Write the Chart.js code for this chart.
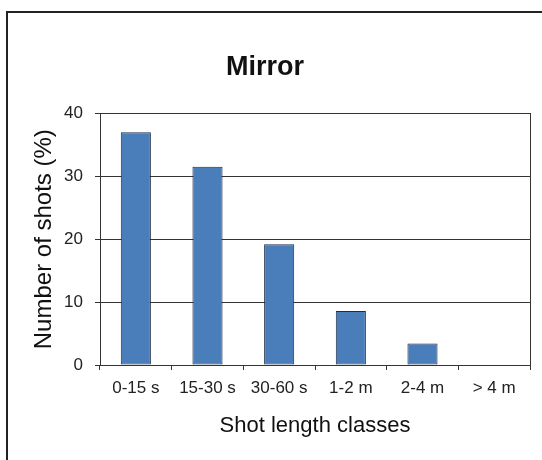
<!DOCTYPE html>
<html>
<head>
<meta charset="utf-8">
<script src="https://cdn.jsdelivr.net/npm/chart.js@4"></script>
<style>
    html, body { margin: 0; padding: 0; background: #fff; }
    #wrap { width: 542px; height: 460px; }
</style>
</head>
<body>
<div id="wrap"><canvas id="mirror-chart" width="542" height="460"></canvas></div>
<script>
const categories = ['0-15 s', '15-30 s', '30-60 s', '1-2 m', '2-4 m', '> 4 m'];
const shotShares = [37, 31.5, 19.2, 8.6, 3.4, 0];
const yTicks = [0, 10, 20, 30, 40];

const fontFamily = 'Arial, "Liberation Sans", sans-serif';

// frame around the whole picture and the plot area box, Excel style
const framePlugin = {
    id: 'frame',
    afterDraw(chart) {
        const ctx = chart.ctx;
        const a = chart.chartArea;
        ctx.save();
        ctx.strokeStyle = '#222';
        ctx.lineWidth = 2;
        ctx.strokeRect(7, 12, 600, 600);
        ctx.strokeStyle = '#333';
        ctx.lineWidth = 1;
        ctx.strokeRect(Math.round(a.left) + 0.5, Math.round(a.top) + 0.5, Math.round(a.right - a.left), Math.round(a.bottom - a.top));
        ctx.restore();
    }
};

let ctx = document.getElementById('mirror-chart').getContext('2d');

new Chart(ctx, {
    type: 'bar',
    data: {
        labels: categories,
        datasets: [{
            data: shotShares,
            backgroundColor: '#4a7ebb',
            borderColor: '#1f2a45',
            borderWidth: 1,
            borderSkipped: false,
            categoryPercentage: 1,
            barPercentage: 0.42
        }]
    },
    options: {
        responsive: false,
        animation: false,
        layout: { padding: { left: 0, right: 12, top: 0, bottom: 0 } },
        plugins: {
            legend: { display: false },
            tooltip: { enabled: false },
            title: {
                display: true,
                text: 'Mirror',
                color: '#111',
                font: { family: fontFamily, size: 27, weight: 'bold' },
                padding: { top: 51, bottom: 30 }
            }
        },
        scales: {
            x: {
                border: { color: '#333', width: 1 },
                grid: { drawOnChartArea: false, drawTicks: true, tickLength: 5, color: '#333', offset: true },
                ticks: { color: '#222', padding: 8, font: { family: fontFamily, size: 17 }, maxRotation: 0 },
                title: {
                    display: true,
                    text: 'Shot length classes',
                    color: '#111',
                    font: { family: fontFamily, size: 22 },
                    padding: { top: 0, bottom: 21 }
                },
                afterFit(scale) { scale.height = 95; }
            },
            y: {
                min: 0,
                max: 40,
                afterBuildTicks(scale) { scale.ticks = yTicks.map(v => ({ value: v })); },
                border: { color: '#333', width: 1 },
                grid: { color: '#333', lineWidth: 1, tickLength: 5 },
                ticks: { color: '#222', padding: 12, font: { family: fontFamily, size: 17 } },
                title: {
                    display: true,
                    text: 'Number of shots (%)',
                    color: '#111',
                    font: { family: fontFamily, size: 24 },
                    padding: { top: 30, bottom: 0 }
                },
                afterFit(scale) { scale.width = 100; }
            }
        }
    },
    plugins: [framePlugin]
});
</script>
</body>
</html>
